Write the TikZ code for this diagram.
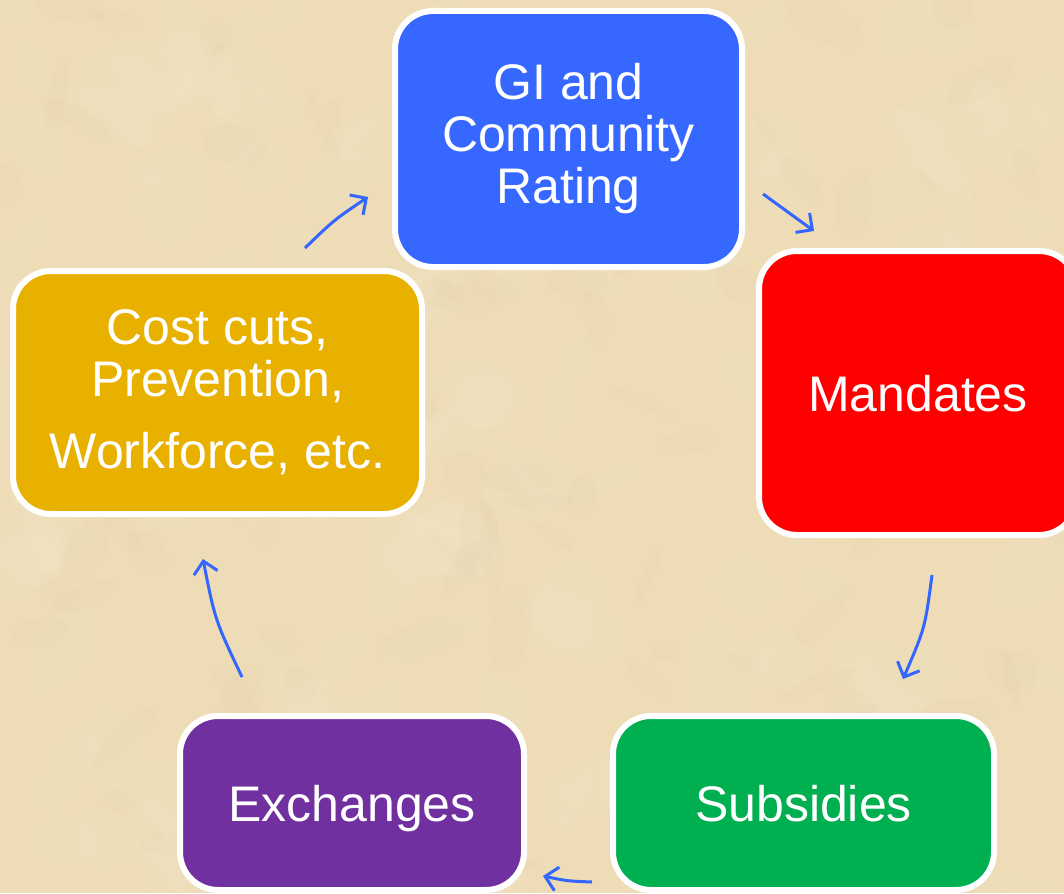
\documentclass[tikz,border=0pt]{standalone}
\usepackage{fontspec}
\setmainfont{Liberation Sans}
\usetikzlibrary{arrows.meta}
\definecolor{parch}{RGB}{237,220,182}
\definecolor{parchlight}{RGB}{248,236,208}
\definecolor{parchdark}{RGB}{218,196,156}
\definecolor{cblue}{RGB}{54,104,255}
\definecolor{cred}{RGB}{255,0,0}
\definecolor{cgold}{RGB}{232,177,0}
\definecolor{cgreen}{RGB}{0,176,80}
\definecolor{cpurple}{RGB}{112,48,160}
\definecolor{cline}{RGB}{51,102,255}
\tikzset{
  box/.style={rectangle, rounded corners=38pt, draw=white, line width=6pt,
    text=white, align=center, inner sep=0pt,
    font=\fontsize{50}{52}\selectfont},
  oneline/.style={text depth=0pt},
  flow/.style={draw=cline, line width=3pt,
    -{Straight Barb[length=12pt,width=24pt,line width=3pt]}}
}
\begin{document}
\begin{tikzpicture}[x=1pt,y=-1pt]
  \useasboundingbox (0,0) rectangle (1064,893);
  \clip (0,0) rectangle (1064,893);
  \fill[parch] (0,0) rectangle (1064,893);

  % faint mottling of the parchment surface
  \pgfmathsetseed{4217}
  \foreach \i in {1,...,160}{
    \pgfmathsetmacro{\px}{random(0,1064)}
    \pgfmathsetmacro{\py}{random(0,893)}
    \pgfmathsetmacro{\rx}{random(20,60)}
    \pgfmathsetmacro{\ry}{random(10,35)}
    \pgfmathsetmacro{\rot}{random(0,180)}
    \fill[parchlight, opacity=0.12, rotate around={\rot:(\px,\py)}]
      (\px,\py) ellipse [x radius=\rx, y radius=\ry];
  }
  \foreach \i in {1,...,100}{
    \pgfmathsetmacro{\px}{random(0,1064)}
    \pgfmathsetmacro{\py}{random(0,893)}
    \pgfmathsetmacro{\rx}{random(12,45)}
    \pgfmathsetmacro{\ry}{random(5,20)}
    \pgfmathsetmacro{\rot}{random(0,180)}
    \fill[parchdark, opacity=0.06, rotate around={\rot:(\px,\py)}]
      (\px,\py) ellipse [x radius=\rx, y radius=\ry];
  }

  % stages of the cycle
  \node[box, fill=cblue, minimum width=347pt, minimum height=256pt] (gi) at (568.5,139) {GI and\\Community\\Rating};
  \node[box, oneline, fill=cred, minimum width=318pt, minimum height=284pt] (mand) at (918,393) {Mandates};
  \node[box, oneline, fill=cgreen, minimum width=381pt, minimum height=174pt] (subs) at (803.5,803) {Subsidies};
  \node[box, oneline, fill=cpurple, minimum width=344pt, minimum height=174pt] (exch) at (352,803) {Exchanges};
  \node[box, fill=cgold, minimum width=409pt, minimum height=243pt] (cost) at (217.5,392.5) {Cost cuts,\\Prevention,\\[20pt]Workforce, etc.};

  % arrow end points between the stages
  \coordinate (a1s) at (305,248);  \coordinate (a1e) at (368,197);
  \coordinate (a2s) at (763,194);  \coordinate (a2e) at (814,231);
  \coordinate (a3s) at (932,575);  \coordinate (a3e) at (903,679);
  \coordinate (a4s) at (592,882);  \coordinate (a4e) at (543,876);
  \coordinate (a5s) at (242,677);  \coordinate (a5e) at (203,559);

  \draw[flow] (a1s) .. controls (334,220) .. (a1e);
  \draw[flow] (a2s) -- (a2e);
  \draw[flow] (a3s) .. controls (925,628) .. (a3e);
  \draw[flow] (a4s) .. controls (567,881) .. (a4e);
  \draw[flow] (a5s) .. controls (215,620) .. (a5e);
\end{tikzpicture}
\end{document}
